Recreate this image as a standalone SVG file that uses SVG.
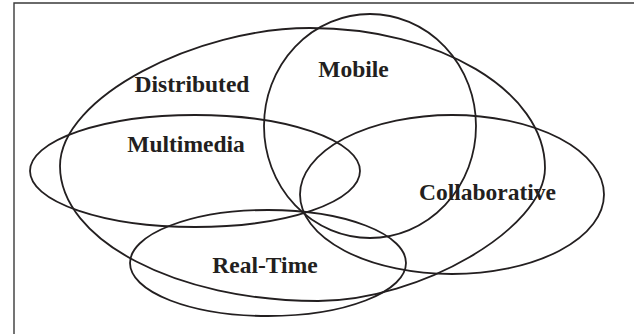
<svg xmlns="http://www.w3.org/2000/svg" width="634" height="334" viewBox="0 0 634 334">
<style>
.set{fill:none;stroke:#231f20;stroke-width:1.8}
.lbl{font-family:"Liberation Serif","Times New Roman",serif;font-weight:bold;font-size:23.5px;fill:#231f20;text-anchor:middle}
.frame{fill:none;stroke:#3a3a3a;stroke-width:1.4}
</style>
<rect width="634" height="334" fill="#ffffff"/>
<path class="frame" d="M14,334 V3 H634"/>
<g id="distributed"><path class="set" d="M60,166 C60,97 197,28 310,28 C439,28 545,91 545,168 C545,228 420,301 318,301 C176,301 60,240 60,166 Z"/><text class="lbl" x="192" y="92">Distributed</text></g>
<g id="mobile"><ellipse class="set" cx="370" cy="126" rx="106" ry="112"/><text class="lbl" x="353.5" y="77">Mobile</text></g>
<g id="multimedia"><ellipse class="set" cx="195" cy="171" rx="165" ry="56"/><text class="lbl" x="186" y="152">Multimedia</text></g>
<g id="collaborative"><ellipse class="set" cx="452" cy="194.5" rx="152" ry="79.5"/><text class="lbl" x="487.5" y="200">Collaborative</text></g>
<g id="realtime"><ellipse class="set" cx="268" cy="263" rx="138" ry="53"/><text class="lbl" x="265" y="273">Real-Time</text></g>
</svg>
